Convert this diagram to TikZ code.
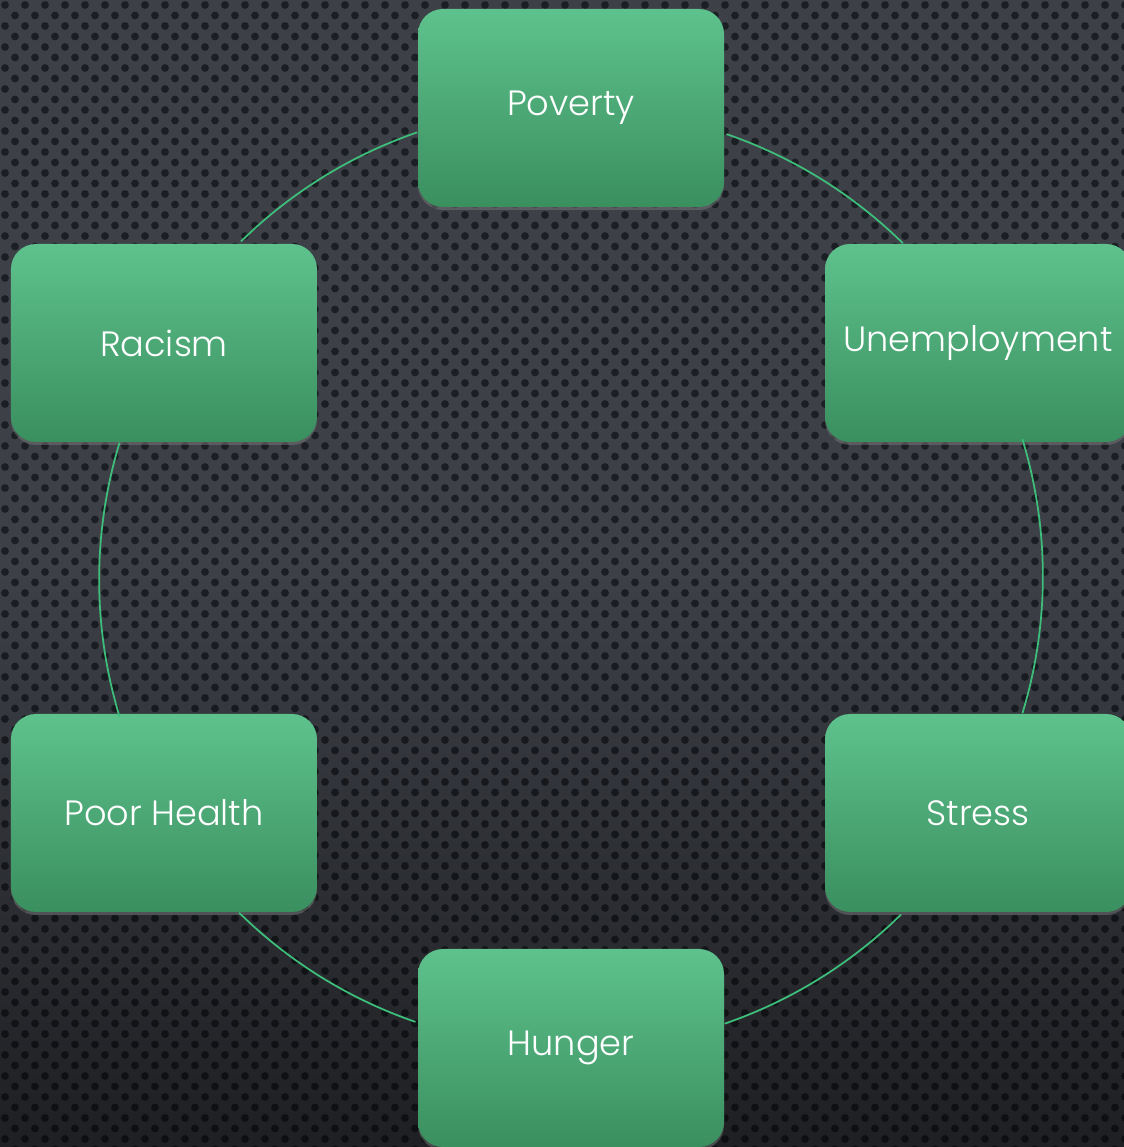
\documentclass[tikz,border=0pt]{standalone}
\usepackage{fontspec}
\setmainfont{Poppins}[UprightFont=* Light]
\usetikzlibrary{shadows,fadings}

\definecolor{boxtop}{HTML}{5EC28D}
\definecolor{boxbot}{HTML}{3A8F5F}
\definecolor{ringline}{HTML}{3DBF7B}
\definecolor{bgtop}{HTML}{3D4047}
\definecolor{holecol}{HTML}{1B1E23}

\tikzset{
  cause/.style={rounded corners=0.25cm, minimum width=3.06cm, minimum height=1.98cm,
    top color=boxtop, bottom color=boxbot, text=white,
    font=\fontsize{10}{12}\selectfont,
    drop shadow={opacity=0.45, shadow xshift=0pt, shadow yshift=-0.03cm}},
  ring/.style={ringline, line width=0.5pt},
}

\begin{document}
\begin{tikzpicture}
    % Perforated dark background
    \useasboundingbox (-5.71,-5.69) rectangle (5.53,5.78);
    \fill[bgtop] (-5.71,-5.69) rectangle (5.53,5.78);
    \foreach \row in {0,...,109} {
        \pgfmathsetmacro{\yy}{5.73-\row*0.105}
        \pgfmathsetmacro{\xoff}{mod(\row,2)*0.1}
        \foreach \col in {0,...,56}
            \fill[holecol] ({-5.66+\xoff+\col*0.2},\yy) circle (0.039);
    }
    \fill[black, path fading=north, opacity=0.5] (-5.71,-5.69) rectangle (5.53,0);

    % Causes on the ring
    \node[cause] (pov) at (90:4.7) {Poverty};
    \node[cause] (unemp) at (30:4.7) {Unemployment};
    \node[cause] (stress) at (-30:4.7) {Stress};
    \node[cause] (hunger) at (-90:4.7) {Hunger};
    \node[cause] (health) at (210:4.7) {Poor Health};
    \node[cause] (racism) at (150:4.7) {Racism};

    % Ring arcs, each leaving one box and ending on the next
    \foreach \a/\dir/\from/\to in {pov/189.6/109/134.5, racism/246.5/163.05/196.95,
                                   health/307.8/225.5/251, hunger/9.5/289/314.5,
                                   stress/66.5/343.05/376.95, unemp/127.8/45.5/71}
        \draw[ring] (\a.\dir) arc[start angle=\from, end angle=\to, radius=4.7];
\end{tikzpicture}
\end{document}
